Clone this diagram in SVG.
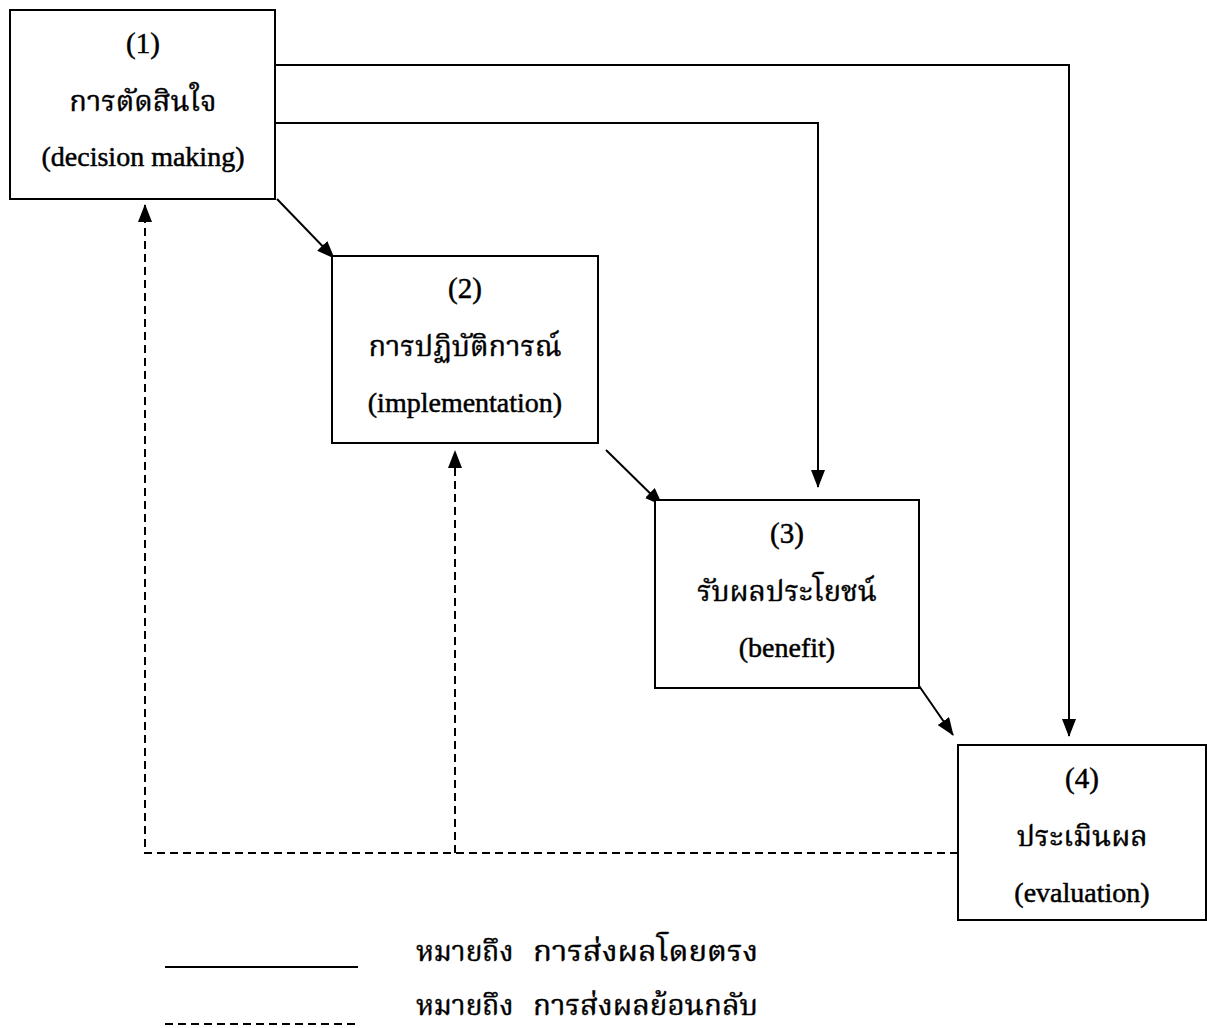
<svg xmlns="http://www.w3.org/2000/svg" width="1207" height="1028" viewBox="0 0 1207 1028">
<style>
.box{fill:#fff;stroke:#000;stroke-width:2}
.num{font-family:"Liberation Serif",serif;font-size:29px;text-anchor:middle;fill:#000;stroke:#000;stroke-width:0.5}
.th{font-family:"Noto Serif Thai","Norasi","Laksaman","Liberation Serif","Noto Sans Thai",serif;font-size:29px;text-anchor:middle;fill:#000;stroke:#000;stroke-width:0.4}
.en{font-family:"Liberation Serif",serif;font-size:28px;text-anchor:middle;fill:#000;stroke:#000;stroke-width:0.5}
.leg{font-family:"Noto Serif Thai","Norasi","Laksaman","Liberation Serif","Noto Sans Thai",serif;font-size:28px;fill:#000;stroke:#000;stroke-width:0.4}
.solid{fill:none;stroke:#000;stroke-width:2}
.dash{fill:none;stroke:#000;stroke-width:2;stroke-dasharray:8,5}
</style>
<defs>
<marker id="ahb" viewBox="0 0 18 14" refX="17" refY="7" markerWidth="18" markerHeight="14" orient="auto" markerUnits="userSpaceOnUse">
<path d="M0,0 L18,7 L0,14 z" fill="#000"/>
</marker>
</defs>
<g id="connectors">
<polyline class="solid" points="276,65 1069,65 1069,736" marker-end="url(#ahb)"/>
<polyline class="solid" points="276,123 818,123 818,487" marker-end="url(#ahb)"/>
<line class="solid" x1="277" y1="199" x2="334" y2="258" marker-end="url(#ahb)"/>
<line class="solid" x1="606" y1="450" x2="662" y2="505" marker-end="url(#ahb)"/>
<line class="solid" x1="915" y1="680" x2="953" y2="735" marker-end="url(#ahb)"/>
<polyline class="dash" points="958,853 145,853 145,205" marker-end="url(#ahb)"/>
<line class="dash" x1="455" y1="853" x2="455" y2="451" marker-end="url(#ahb)"/>
</g>
<g id="node1">
<rect class="box" x="10" y="10" width="265" height="189"/>
<text class="num" x="143" y="53">(1)</text>
<text class="th" x="143" y="111">การตัดสินใจ</text>
<text class="en" x="143" y="166">(decision making)</text>
</g>
<g id="node2">
<rect class="box" x="332" y="256" width="266" height="187"/>
<text class="num" x="465" y="298">(2)</text>
<text class="th" x="465" y="356">การปฏิบัติการณ์</text>
<text class="en" x="465" y="412">(implementation)</text>
</g>
<g id="node3">
<rect class="box" x="655" y="500" width="264" height="188"/>
<text class="num" x="787" y="543">(3)</text>
<text class="th" x="787" y="601">รับผลประโยชน์</text>
<text class="en" x="787" y="657">(benefit)</text>
</g>
<g id="node4">
<rect class="box" x="958" y="745" width="248" height="175"/>
<text class="num" x="1082" y="788">(4)</text>
<text class="th" x="1082" y="846">ประเมินผล</text>
<text class="en" x="1082" y="902">(evaluation)</text>
</g>
<g id="legend">
<line class="solid" x1="165" y1="967" x2="358" y2="967"/>
<line class="dash" x1="165" y1="1024" x2="358" y2="1024"/>
<text class="leg" x="416" y="961">หมายถึง</text>
<text class="leg" x="533" y="961" textLength="225" lengthAdjust="spacingAndGlyphs">การส่งผลโดยตรง</text>
<text class="leg" x="416" y="1015">หมายถึง</text>
<text class="leg" x="533" y="1015" textLength="225" lengthAdjust="spacingAndGlyphs">การส่งผลย้อนกลับ</text>
</g>
</svg>
